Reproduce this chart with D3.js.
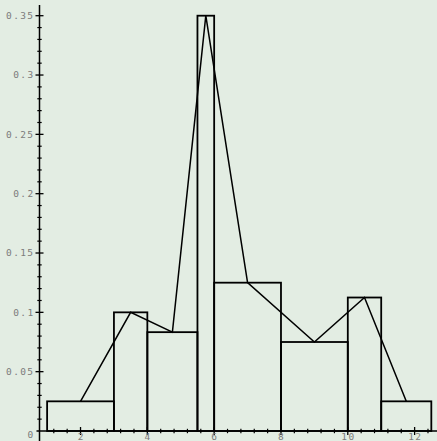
<!DOCTYPE html>
<html><head><meta charset="utf-8">
<script src="https://cdn.jsdelivr.net/npm/d3@7"></script>
<style>
html,body{margin:0;padding:0;background:#e3ede3;overflow:hidden}
svg{display:block}
text{font-family:"DejaVu Sans Mono",monospace;font-size:9.5px;fill:#7c7c7c;letter-spacing:1.4px}
</style></head>
<body>
<script>
// bin edges and densities of the histogram
const binStart = [1, 3, 4, 5.5, 6, 8, 10, 11];
const binEnd   = [3, 4, 5.5, 6, 8, 10, 11, 12.5];
const density  = [0.025, 0.1, 0.0833, 0.35, 0.125, 0.075, 0.1125, 0.025];
// frequency polygon (bin midpoints)
const polyX = [2, 3.5, 4.75, 5.75, 7, 9, 10.5, 11.75];
const polyY = [0.025, 0.1, 0.0833, 0.35, 0.125, 0.075, 0.1125, 0.025];
// tick labels
const xTicks = [2, 4, 6, 8, 10, 12];
const xTickLabels = ["2", "4", "6", "8", "10", "12"];
const yTicks = [0.05, 0.1, 0.15, 0.2, 0.25, 0.3, 0.35];
const yTickLabels = ["0.05", "0.1", "0.15", "0.2", "0.25", "0.3", "0.35"];

const W = 437, H = 441;
const svg = d3.select("body").append("svg").attr("width", W).attr("height", H);
svg.append("rect").attr("width", W).attr("height", H).attr("fill", "#e3ede3");

const x = d3.scaleLinear().domain([0.772, 12.67]).range([39.5, 437]);
const y = d3.scaleLinear().domain([0, 0.35]).range([431, 15.7]);
const x0 = x(0.772), y0 = y(0);

// bars
svg.append("g").selectAll("rect").data(density).join("rect")
  .attr("x", (d, i) => x(binStart[i]))
  .attr("width", (d, i) => x(binEnd[i]) - x(binStart[i]))
  .attr("y", d => y(d))
  .attr("height", d => y0 - y(d))
  .attr("fill", "none").attr("stroke", "#000").attr("stroke-width", 1.8);

// polygon
const line = d3.line().x(d => x(d[0])).y(d => y(d[1]));
svg.append("path").datum(polyX.map((v, i) => [v, polyY[i]]))
  .attr("d", line).attr("fill", "none").attr("stroke", "#000").attr("stroke-width", 1.5);

// axes lines
const ax = svg.append("g").attr("stroke", "#000").attr("stroke-width", 1.5);
ax.append("line").attr("x1", x0).attr("x2", x0).attr("y1", y(0.359)).attr("y2", H);
ax.append("line").attr("x1", x0 - 3).attr("x2", W).attr("y1", y0).attr("y2", y0);

// y ticks
const yMinor = d3.range(1, 36).map(i => i / 100).filter(v => Math.round(v * 100) % 5 !== 0);
ax.selectAll(".ymin").data(yMinor).join("line")
  .attr("x1", x0 - 2.2).attr("x2", x0 + 2.2).attr("y1", d => y(d)).attr("y2", d => y(d)).attr("stroke-width", 1.2);
ax.selectAll(".ymaj").data(yTicks).join("line")
  .attr("x1", x0 - 4).attr("x2", x0 + 4).attr("y1", d => y(d)).attr("y2", d => y(d)).attr("stroke-width", 1.3);

// x ticks
const xMinor = d3.range(3, 32).map(i => +(i * 0.4).toFixed(1)).filter(v => Math.abs(v / 2 - Math.round(v / 2)) > 1e-6);
ax.selectAll(".xmin").data(xMinor).join("line")
  .attr("y1", y0 - 2.2).attr("y2", y0 + 2.2).attr("x1", d => x(d)).attr("x2", d => x(d)).attr("stroke-width", 1.2);
ax.selectAll(".xmaj").data(xTicks).join("line")
  .attr("y1", y0 - 4).attr("y2", y0 + 4).attr("x1", d => x(d)).attr("x2", d => x(d)).attr("stroke-width", 1.3);

// labels
svg.append("g").selectAll("text").data(yTicks).join("text")
  .attr("x", x0 - 5).attr("y", d => y(d)).attr("dy", "0.35em")
  .attr("text-anchor", "end").text((d, i) => yTickLabels[i]);
svg.append("text").attr("x", x0 - 5).attr("y", y0 + 4).attr("dy", "0.35em")
  .attr("text-anchor", "end").text("0");
svg.append("g").selectAll("text").data(xTicks).join("text")
  .attr("x", d => x(d) + 0.7).attr("y", H - 1)
  .attr("text-anchor", "middle").text((d, i) => xTickLabels[i]);
</script>
</body></html>
